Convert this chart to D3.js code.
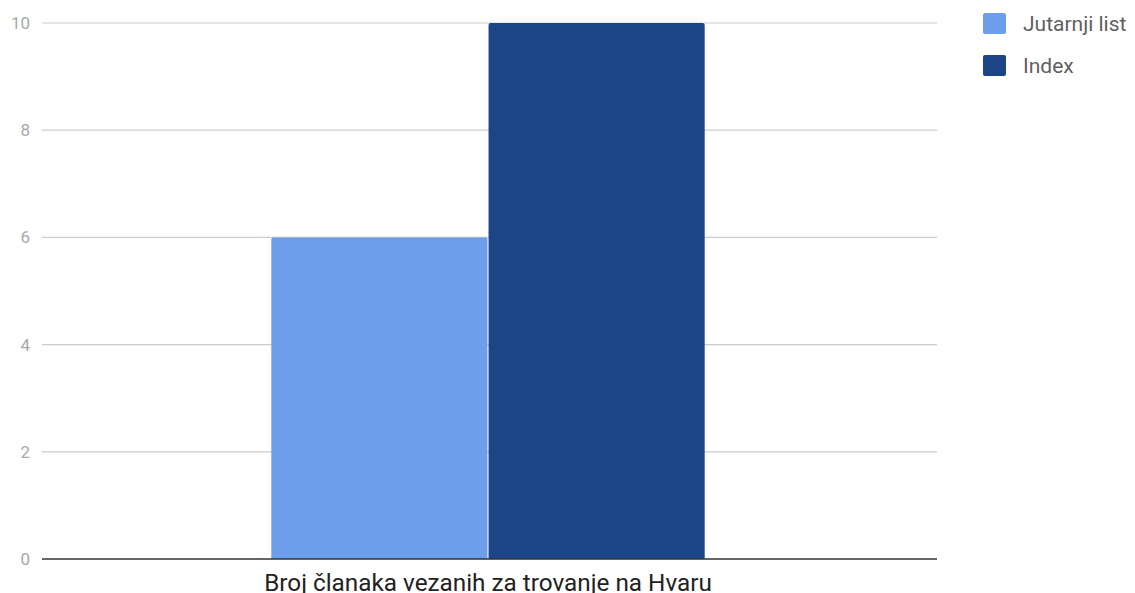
<!DOCTYPE html>
<html><head><meta charset="utf-8">
<script src="https://cdn.jsdelivr.net/npm/d3@7/dist/d3.min.js"></script>
<style>body{margin:0;background:#fff;}svg{display:block;font-family:Roboto,sans-serif;}</style>
</head><body>
<svg id="c" width="1135" height="593"></svg>
<script>
const categories = ["Broj članaka vezanih za trovanje na Hvaru"];
const seriesNames = ["Jutarnji list", "Index"];
const seriesValues = [[6], [10]];
const colors = ["#6d9eeb", "#1c4587"];
const yTicks = [0, 2, 4, 6, 8, 10];

(function () {
const svg = d3.select("#c");
const mL = 42, mR = 937, mT = 23, mB = 559;
const x = d3.scaleBand().domain(categories).range([mL - 3, mR]).paddingInner(0).paddingOuter(0.536);
const xs = d3.scaleBand().domain(seriesNames).range([0, x.bandwidth()]).paddingInner(0.005);
const y = d3.scaleLinear().domain([0, 10]).range([mB, mT]);

const g = svg.append("g");
g.selectAll("line.grid").data(yTicks.slice(1)).join("line")
  .attr("x1", mL).attr("x2", mR)
  .attr("y1", d => y(d)).attr("y2", d => y(d))
  .attr("stroke", "#cccccc").attr("stroke-width", 1.2);

g.selectAll("text.yt").data(yTicks).join("text")
  .attr("x", 30).attr("y", d => y(d)).attr("dy", "0.35em")
  .attr("text-anchor", "end").attr("fill", "#a8a8a8").attr("font-size", 17)
  .text(d => d);

categories.forEach((c, ci) => {
  seriesNames.forEach((s, si) => {
    const v = seriesValues[si][ci];
    const bx = x(c) + xs(s), bw = xs.bandwidth();
    const by = y(v), bh = y(0) - y(v);
    const r = 2;
    g.append("path")
      .attr("d", `M${bx},${by+bh}V${by+r}Q${bx},${by} ${bx+r},${by}H${bx+bw-r}Q${bx+bw},${by} ${bx+bw},${by+r}V${by+bh}Z`)
      .attr("fill", colors[si]);
  });
  g.append("text").attr("x", x(c) + x.bandwidth()/2).attr("y", 591)
    .attr("text-anchor", "middle").attr("fill", "#222").attr("font-size", 24.3)
    .text(c);
});

g.append("line").attr("x1", mL).attr("x2", mR).attr("y1", y(0)).attr("y2", y(0))
  .attr("stroke", "#333").attr("stroke-width", 1.5);

const lg = svg.append("g");
seriesNames.forEach((s, i) => {
  const ly = 13 + i * 42;
  lg.append("rect").attr("x", 983).attr("y", ly).attr("width", 23).attr("height", 21)
    .attr("rx", 2).attr("fill", colors[i]);
  lg.append("text").attr("x", 1023).attr("y", ly + 10.5).attr("dy", "0.35em")
    .attr("fill", "#5f5f5f").attr("font-size", 21).text(s);
});
})();
</script>
</body></html>
